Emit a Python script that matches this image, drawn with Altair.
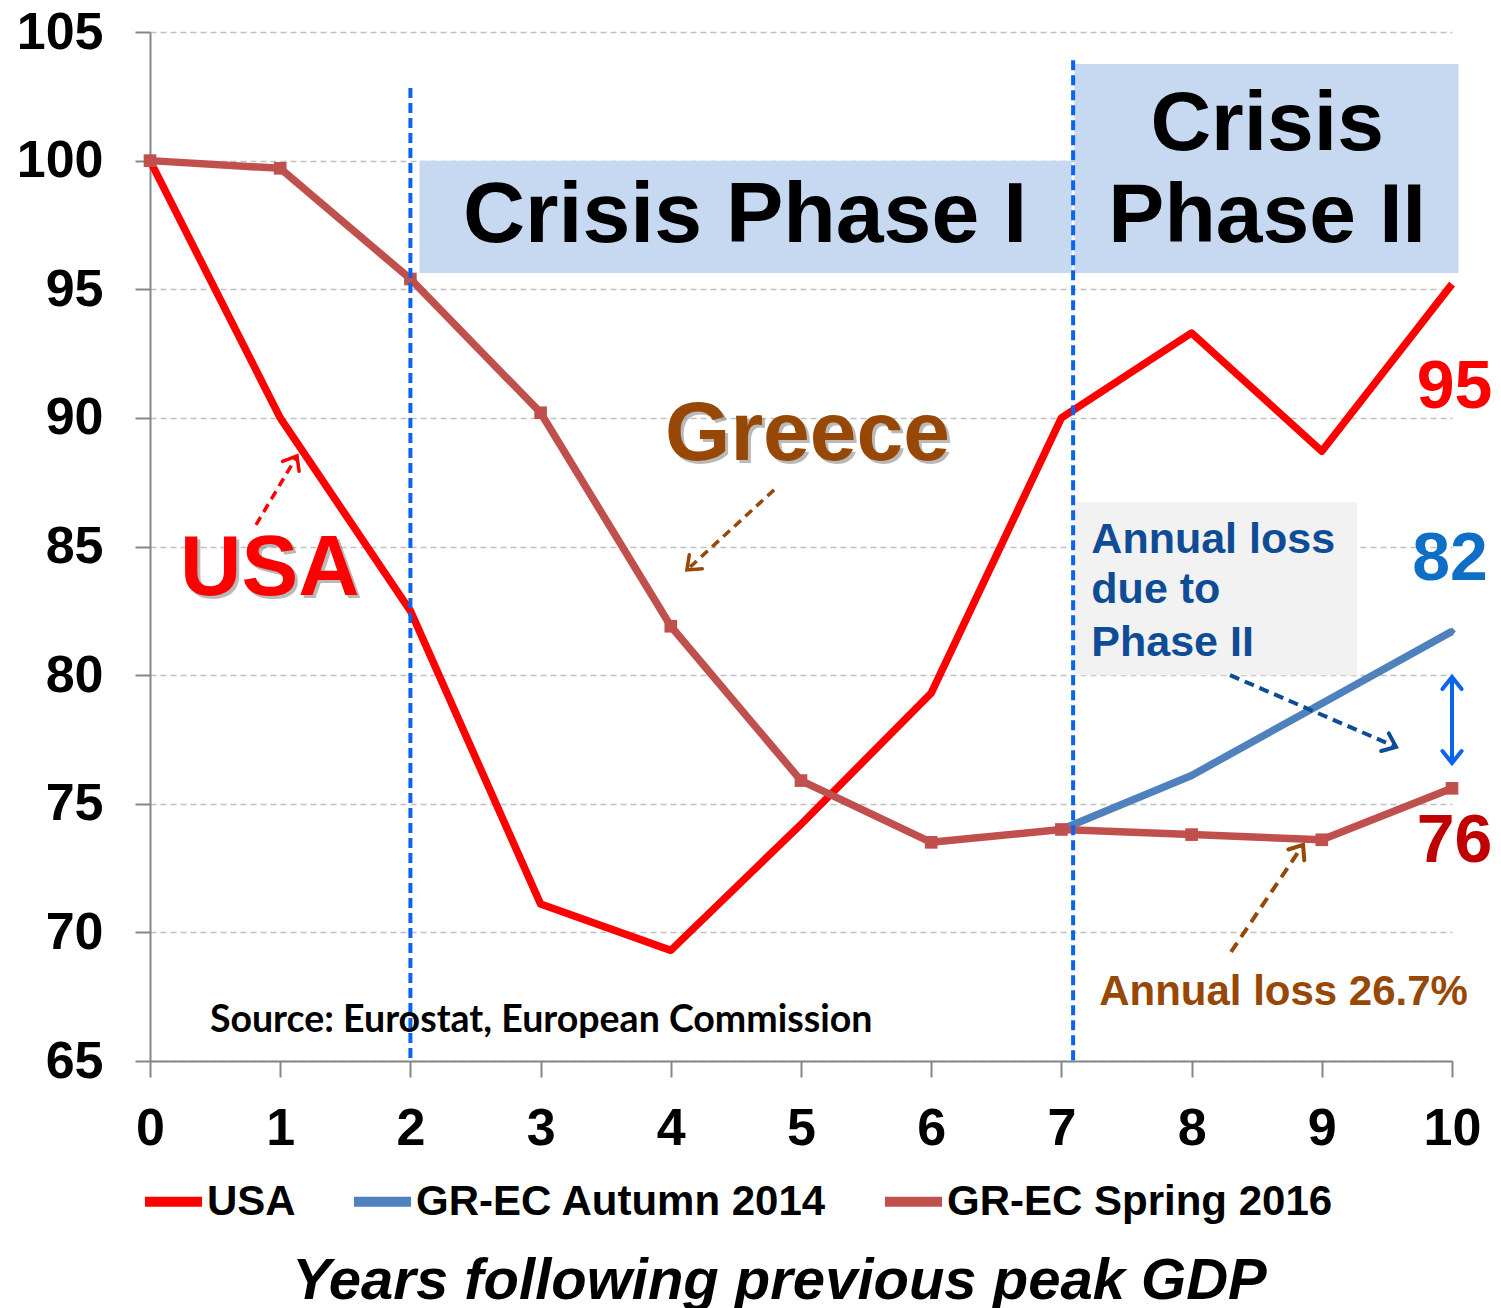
import math
import altair as alt
import pandas as pd

# ---------------- data ----------------
years = list(range(11))
usa = [100.0, 90.0, 82.5, 71.1, 69.3, 74.2, 79.3, 90.0, 93.3, 88.7, 95.2]
gr_spring_2016 = [100.0, 99.7, 95.4, 90.2, 81.9, 75.9, 73.5, 74.0, 73.8, 73.6, 75.6]
autumn_years = [7, 8, 9, 10]
gr_autumn_2014 = [74.0, 76.1, 78.9, 81.7]

series_names = ["USA", "GR-EC Autumn 2014", "GR-EC Spring 2016"]
series_colors = ["#FF0000", "#4F81BD", "#C0504D"]

x_ticks = list(range(0, 11))
y_ticks = list(range(65, 106, 5))
x_title = "Years following previous peak GDP"

# ---------------- layout ----------------
W, H = 1302, 1029
X_DOM, Y_DOM = [0, 10], [65, 105]
PX_X = W / (X_DOM[1] - X_DOM[0])
PX_Y = H / (Y_DOM[1] - Y_DOM[0])
ARIAL = "Liberation Sans, Arial, sans-serif"

rows = []
for yr, v in zip(years, usa):
    rows.append({"x": yr, "y": v, "series": "USA"})
for yr, v in zip(autumn_years, gr_autumn_2014):
    rows.append({"x": yr, "y": v, "series": "GR-EC Autumn 2014"})
for yr, v in zip(years, gr_spring_2016):
    rows.append({"x": yr, "y": v, "series": "GR-EC Spring 2016"})
df = pd.DataFrame(rows)

xs = alt.Scale(domain=X_DOM, nice=False, zero=False)
ys = alt.Scale(domain=Y_DOM, nice=False, zero=False)

x_axis = alt.Axis(
    values=x_ticks, grid=False, labelFont=ARIAL, labelFontSize=52, labelFontWeight="bold",
    labelColor="black", tickSize=16, tickWidth=2, tickColor="#868686",
    domainColor="#868686", domainWidth=2, labelPadding=26, labelFlush=False,
    titleFont=ARIAL, titleFontSize=58, titleFontWeight="bold", titleFontStyle="italic",
    titleColor="black", titleX=629, titleY=237, titleAlign="center", titleBaseline="alphabetic",
)
y_axis = alt.Axis(
    values=y_ticks, grid=True, gridColor="#C0C0C0", gridDash=[6, 4], gridWidth=1.5,
    labelFont=ARIAL, labelFontSize=52, labelFontWeight="bold", labelColor="black",
    tickSize=15, tickWidth=2, tickColor="#868686", domainColor="#868686", domainWidth=2,
    labelPadding=32, title=None,
)

X = alt.X("x:Q", scale=xs, axis=x_axis, title=x_title)
Y = alt.Y("y:Q", scale=ys, axis=y_axis)

# ---------------- background boxes ----------------
boxes = pd.DataFrame([
    {"x": 2.07, "x2": 7.08, "y": 100.0, "y2": 95.63, "fill": "#C6D9F1"},
    {"x": 7.10, "x2": 10.05, "y": 103.76, "y2": 95.63, "fill": "#C6D9F1"},
    {"x": 7.10, "x2": 9.27, "y": 86.73, "y2": 80.0, "fill": "#F2F2F2"},
])
box_layer = alt.Chart(boxes).mark_rect(clip=False).encode(
    x=X, x2="x2:Q", y=Y, y2="y2:Q", fill=alt.Fill("fill:N", scale=None)
)

# ---------------- series ----------------
lines = alt.Chart(df).mark_line(strokeWidth=7.5, strokeJoin="round").encode(
    x=X, y=Y,
    color=alt.Color(
        "series:N",
        scale=alt.Scale(domain=series_names, range=series_colors),
        sort=series_names,
        legend=alt.Legend(
            orient="none", legendX=-10, legendY=1136, direction="horizontal", title=None,
            symbolType="stroke", symbolStrokeWidth=10, symbolSize=3249,
            labelFont=ARIAL, labelFontSize=42, labelFontWeight="bold", labelColor="black",
            labelOffset=0, labelLimit=1000, columnPadding=38, padding=0,
        ),
    ),
    order=alt.Order("x:Q"),
)

spring_df = df[df.series == "GR-EC Spring 2016"]
autumn_df = df[df.series == "GR-EC Autumn 2014"]
spring_pts = alt.Chart(spring_df).mark_point(
    shape="square", filled=True, size=160, color="#C0504D", opacity=1
).encode(x=X, y=Y)
autumn_pts = alt.Chart(autumn_df).mark_point(
    shape="diamond", filled=True, size=60, color="#4F81BD", opacity=1
).encode(x=X, y=Y)

# ---------------- vertical phase lines ----------------
vlines = pd.DataFrame([
    {"x": 2.0, "y": 102.82, "y2": 65.0},
    {"x": 7.09, "y": 103.9, "y2": 65.0},
])
vline_layer = alt.Chart(vlines).mark_rule(
    color="#0A64F0", strokeWidth=4, strokeDash=[10, 5]
).encode(x=X, y=Y, y2="y2:Q")

# ---------------- arrows ----------------
arrows = [
    dict(x=0.814, y=85.84, x2=1.129, y2=88.52, color="#FF0000", dash=[9, 6], w=3.5, both=False),
    dict(x=4.793, y=87.20, x2=4.124, y2=84.09, color="#974806", dash=[9, 6], w=3.5, both=False),
    dict(x=8.295, y=80.00, x2=9.570, y2=77.21, color="#0F4C96", dash=[10, 6], w=4, both=False),
    dict(x=10.0, y=76.58, x2=10.0, y2=79.93, color="#0A64F0", dash=None, w=4, both=True),
    dict(x=8.303, y=69.24, x2=8.856, y2=73.40, color="#974806", dash=[11, 7], w=4, both=False),
]

def screen_angle(x0, y0, x1, y1):
    dx = (x1 - x0) * PX_X
    dy = -(y1 - y0) * PX_Y
    return math.degrees(math.atan2(dy, dx)) % 360

CHEVRON = "M -1 -0.8 L 0 0 L -1 0.8"
arrow_layers = []
for a in arrows:
    seg = pd.DataFrame([{"x": a["x"], "y": a["y"], "x2": a["x2"], "y2": a["y2"]}])
    kw = dict(color=a["color"], strokeWidth=a["w"])
    if a["dash"]:
        kw["strokeDash"] = a["dash"]
    arrow_layers.append(alt.Chart(seg).mark_rule(**kw).encode(x=X, y=Y, x2="x2:Q", y2="y2:Q"))
    heads = [{"x": a["x2"], "y": a["y2"], "angle": screen_angle(a["x"], a["y"], a["x2"], a["y2"])}]
    if a["both"]:
        heads.append({"x": a["x"], "y": a["y"], "angle": screen_angle(a["x2"], a["y2"], a["x"], a["y"])})
    arrow_layers.append(
        alt.Chart(pd.DataFrame(heads)).mark_point(
            shape=CHEVRON, filled=False, size=576, color=a["color"], strokeWidth=a["w"], opacity=1,
            strokeCap="round", strokeJoin="miter",
        ).encode(x=X, y=Y, angle=alt.Angle("angle:Q", scale=None))
    )

# ---------------- text annotations ----------------
def text_layer(items, shadow=False, **kw):
    d = pd.DataFrame(items)
    layers = []
    if shadow:
        sk = dict(kw)
        sk["color"] = "#808080"
        layers.append(alt.Chart(d).mark_text(dx=3, dy=3, opacity=0.55, **sk).encode(x=X, y=Y, text="t:N"))
    layers.append(alt.Chart(d).mark_text(**kw).encode(x=X, y=Y, text="t:N"))
    return layers

big = dict(font=ARIAL, fontWeight="bold", baseline="alphabetic", align="center")
texts = []
texts += text_layer([{"t": "Crisis Phase I", "x": 4.57, "y": 96.84}], color="black", fontSize=86, **big)
texts += text_layer([{"t": "Crisis", "x": 8.58, "y": 100.41},
                     {"t": "Phase II", "x": 8.58, "y": 96.84}], color="black", fontSize=84, **big)
texts += text_layer([{"t": "Greece", "x": 5.05, "y": 88.36}], shadow=True, color="#974806", fontSize=84, **big)
texts += text_layer([{"t": "USA", "x": 0.92, "y": 83.11}], shadow=True, color="#FF0000", fontSize=85, **big)
texts += text_layer([{"t": "95", "x": 10.02, "y": 90.38}], color="#FF0000", fontSize=68, **big)
texts += text_layer([{"t": "82", "x": 9.985, "y": 83.70}], color="#0F6FC6", fontSize=68, **big)
texts += text_layer([{"t": "76", "x": 10.02, "y": 72.74}], color="#C00000", fontSize=68, **big)

left = dict(font=ARIAL, fontWeight="bold", baseline="alphabetic", align="left")
texts += text_layer([{"t": "Annual loss", "x": 7.23, "y": 84.75},
                     {"t": "due to", "x": 7.23, "y": 82.80},
                     {"t": "Phase II", "x": 7.23, "y": 80.74}], color="#0F4C96", fontSize=43, **left)
texts += text_layer([{"t": "Annual loss 26.7%", "x": 7.29, "y": 67.18}], color="#974806", fontSize=42, **left)
texts += text_layer([{"t": "Source: Eurostat, European Commission", "x": 0.46, "y": 66.13}],
                    color="black", fontSize=37.5, font="Lato", fontWeight="bold",
                    baseline="alphabetic", align="left")

chart = alt.layer(
    box_layer, lines, autumn_pts, spring_pts, vline_layer, *arrow_layers, *texts
).properties(
    width=W, height=H,
    padding={"left": 142, "top": 24, "right": 41, "bottom": 260},
    autosize=alt.AutoSizeParams(type="none"),
    background="white",
).configure_view(stroke=None)

chart.save("out.html", embed_options={"renderer": "svg", "actions": False})
